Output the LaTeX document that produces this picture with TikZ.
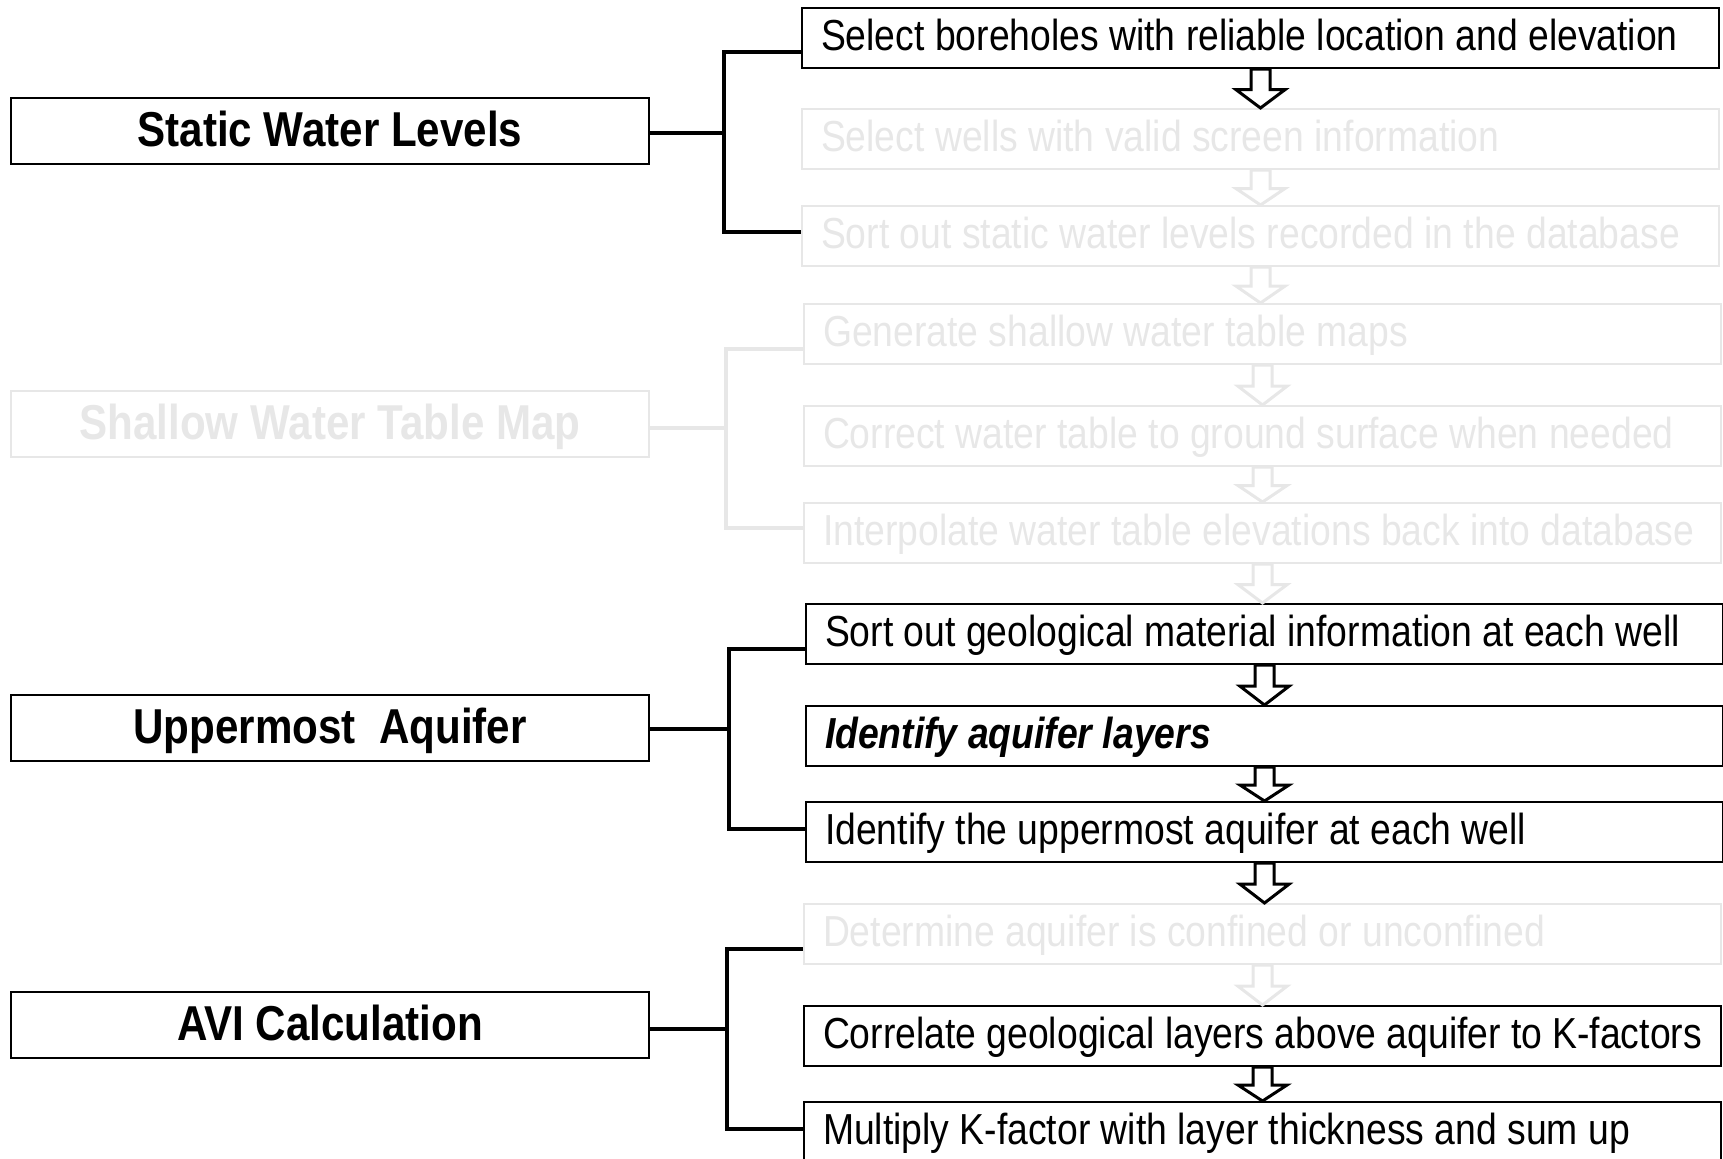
\documentclass[tikz,border=0pt]{standalone}
\usepackage{fontspec}
\setmainfont[FakeStretch=0.86]{Liberation Sans}
\usetikzlibrary{calc}
\definecolor{faded}{RGB}{231,231,231}

\begin{document}
\begin{tikzpicture}[x=0.5pt,y=-0.5pt,
	mainbox/.style={draw,line width=1pt,anchor=north west,inner sep=0pt,
		minimum width=319pt,minimum height=33pt,text height=17.5pt,text depth=2.5pt,
		font=\fontsize{24.5}{29}\selectfont\bfseries},
	taskbox/.style={draw,line width=1pt,anchor=north west,inner xsep=9.5pt,inner ysep=0pt,
		text width=439.5pt,align=flush left,minimum height=30pt,text height=15.5pt,text depth=3.5pt,
		font=\fontsize{21.7}{26}\selectfont},
	faded/.style={draw=faded,text=faded},
	link/.style={line width=2.2pt},
	hollow/.style={line width=1.5pt,fill=white,line join=miter}]
		\useasboundingbox (0,0) rectangle (1723,1158);
		
		%left column, the four stages
		\node[mainbox] (sw) at (10,97) {Static Water Levels};
		\node[mainbox,faded] (wt) at (10,390) {Shallow Water Table Map};
		\node[mainbox] (ua) at (10,694) {Uppermost\ \ Aquifer};
		\node[mainbox] (avi) at (10,991) {AVI Calculation};
		
		%right column, the single steps
		\node[taskbox] (r1) at (801,7) {Select boreholes with reliable location and elevation};
		\node[taskbox,faded] (r2) at (801,108) {Select wells with valid screen information};
		\node[taskbox,faded] (r3) at (801,205) {Sort out static water levels recorded in the database};
		\node[taskbox,faded] (r4) at (803,303) {Generate shallow water table maps};
		\node[taskbox,faded] (r5) at (803,405) {Correct water table to ground surface when needed};
		\node[taskbox,faded] (r6) at (803,502) {Interpolate water table elevations back into database};
		\node[taskbox] (r7) at (805,603) {Sort out geological material information at each well};
		\node[taskbox] (r8) at (805,705) {\textit{\textbf{Identify aquifer layers}}};
		\node[taskbox] (r9) at (805,801) {Identify the uppermost aquifer at each well};
		\node[taskbox,faded] (r10) at (803,903) {Determine aquifer is confined or unconfined};
		\node[taskbox] (r11) at (803,1005) {Correlate geological layers above aquifer to K-factors};
		\node[taskbox] (r12) at (803,1101) {Multiply K-factor with layer thickness and sum up};
		
		%hollow arrows between the steps
		\foreach \a/\b/\c in {r1/r2/black,r2/r3/faded,r3/r4/faded,r4/r5/faded,r5/r6/faded,r6/r7/faded,
				r7/r8/black,r8/r9/black,r9/r10/black,r10/r11/faded,r11/r12/black}{
			\coordinate (t) at (\a.south);
			\coordinate (h) at (\a.south |- \b.north);
			\coordinate (m) at ($(t)!0.53!(h)$);
			\draw[hollow,draw=\c] ([xshift=-4.75pt]t) -- ([xshift=-4.75pt]m) -- ([xshift=-12.25pt]m)
				-- (h) -- ([xshift=12.25pt]m) -- ([xshift=4.75pt]m) -- ([xshift=4.75pt]t) -- cycle;
		}
		
		%brackets from the stages to their steps
		\coordinate (swj) at (724,133);
		\draw[link] (sw.east |- swj) -- (swj);
		\draw[link] ($(r1.west)+(0,14)$) -| (swj) |- ($(r3.west)+(0,-4)$);
		
		\coordinate (wtj) at (726,428);
		\draw[link,faded] (wt.east |- wtj) -- (wtj);
		\draw[link,faded] ($(r4.west)+(0,15)$) -| (wtj) |- ($(r6.west)+(0,-5)$);
		
		\coordinate (uaj) at (729,729);
		\draw[link] (ua.east |- uaj) -- (uaj);
		\draw[link] ($(r7.west)+(0,15)$) -| (uaj) |- ($(r9.west)+(0,-3)$);
		
		\coordinate (avij) at (727,1029);
		\draw[link] (avi.east |- avij) -- (avij);
		\draw[link] ($(r10.west)+(0,15)$) -| (avij) |- ($(r12.west)+(0,-3)$);
		
	\end{tikzpicture}
\end{document}
